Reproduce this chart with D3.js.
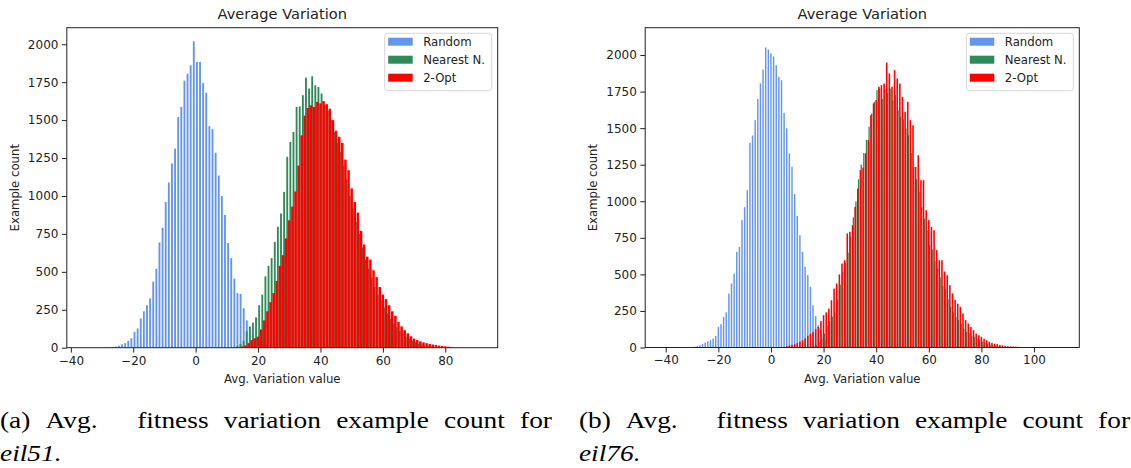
<!DOCTYPE html>
<html><head><meta charset="utf-8">
<script src="https://cdn.jsdelivr.net/npm/d3@7"></script>
<style>html,body{margin:0;padding:0;background:#fff;} svg{display:block;}</style>
</head><body>
<svg id="c" width="1131" height="468"></svg>
<script>
// ---------- DATA ----------
const seriesNames = ["Random", "Nearest N.", "2-Opt"];
const seriesColors = ["#6495ED", "#2E8B57", "#FF0000"];
const xTicksA = [-40, -20, 0, 20, 40, 60, 80];
const xTicksB = [-40, -20, 0, 20, 40, 60, 80, 100];
const yTicks = [0, 250, 500, 750, 1000, 1250, 1500, 1750, 2000];

// (a) eil51 — bin centres start at *Start, one unit apart
const aRandomStart = -28.6;
const aRandom = [5,5,6,8,13,22,30,45,62,105,127,193,240,280,325,435,520,694,790,961,1089,1214,1313,1520,1587,1760,1806,1861,2019,
  1883,1883,1745,1680,1460,1440,1285,1135,1000,875,690,590,455,360,355,260,180,135,90,60,38,22,10,4];
const aNearestStart = 12.35;
const aNearest = [5,12,25,45,110,140,165,200,280,350,470,540,590,698,797,885,1027,1258,1356,1422,1587,1590,1664,1780,1708,1789,1729,1718,1675,
  1600,1560,1500,1420,1350,1290,1200,1110,1000,920,830,750,660,580,520,460,400,350,310,265,225,190,160,135,110,90,72,58,45,35,27,20,15,11,8,5];
const aTwoOptStart = 15;
const aTwoOpt = [8,15,30,50,62,73,120,180,240,300,360,440,540,610,720,840,930,1030,1200,1400,1530,1580,1598,1587,1620,1610,1625,1605,1575,
  1500,1430,1390,1350,1240,1170,1050,960,890,770,680,600,580,510,465,400,350,320,280,240,210,170,140,115,95,75,60,50,42,35,30,25,21,18,14,12,9,7,5];

// (b) eil76
const bRandomStart = -31;
const bRandom = [4,4,6,10,16,25,33,42,50,62,80,140,160,210,240,369,438,506,654,688,871,960,1076,1400,1450,1555,1700,1806,1901,2052,2038,
  2011,1990,1931,1850,1828,1605,1498,1327,1236,1049,900,768,654,552,495,415,289,214,152,118,73,50,30,15,6];
const bNearestStart = 14.3;
const bNearest = [4,6,10,16,35,60,95,150,180,210,240,330,430,517,580,650,760,890,1000,1150,1250,1330,1420,1510,1600,1680,1760,1771,1700,
  1765,1740,1770,1690,1726,1620,1577,1560,1498,1450,1330,1235,1150,1064,960,882,800,700,670,590,540,480,420,403,330,278,240,210,187,160,
  130,107,95,80,73,60,50,40,32,25,20,15,11,8,6,4];
const bTwoOptStart = 6;
const bTwoOpt = [10,14,18,23,30,39,50,62,80,95,107,125,141,180,221,240,266,323,403,438,500,574,597,780,791,836,962,1087,1213,1231,1327,
  1418,1589,1669,1692,1783,1794,1805,1949,1874,1783,1897,1840,1805,1714,1612,1680,1555,1520,1235,1315,1144,1144,939,871,825,802,666,597,
  597,520,494,426,369,324,300,278,232,187,164,140,118,95,84,73,60,50,40,32,26,23,18,15,11,9,8,7,6,5,4,3];

const captionA = ["(a)", "Avg.", "fitness", "variation", "example", "count", "for"];
const captionA2 = "eil51.";
const captionB = ["(b)", "Avg.", "fitness", "variation", "example", "count", "for"];
const captionB2 = "eil76.";

// ---------- DRAW ----------
const svg = d3.select("#c");
const FONT = "DejaVu Sans";

function panel(cfg) {
  const {x0, x1, y0, y1, xDomain, yDomain, xTicks, series, id} = cfg;
  const g = svg.append("g");
  const xs = d3.scaleLinear().domain(xDomain).range([x0, x1]);
  const ys = d3.scaleLinear().domain(yDomain).range([y1, y0]);

  g.append("clipPath").attr("id", "clip" + id)
    .append("rect").attr("x", x0).attr("y", y0).attr("width", x1 - x0).attr("height", y1 - y0);

  const plot = g.append("g").attr("clip-path", `url(#clip${id})`);
  series.forEach(s => {
    const pts = s.values.map((c, i) => ({v: s.start + i, c}));
    plot.append("g").selectAll("rect").data(pts).join("rect")
      .attr("x", d => xs(d.v - s.width / 2))
      .attr("width", d => xs(d.v + s.width / 2) - xs(d.v - s.width / 2))
      .attr("y", d => ys(d.c))
      .attr("height", d => ys(0) - ys(d.c))
      .attr("fill", s.color);
  });

  // axes
  const fmt = d3.format("d");
  const xAxis = d3.axisBottom(xs).tickValues(xTicks).tickFormat(fmt).tickSize(4.9).tickPadding(3.5);
  const gx = g.append("g").attr("transform", `translate(0,${y1})`).call(xAxis);
  const yAxis = d3.axisLeft(ys).tickValues(yTicks).tickFormat(fmt).tickSize(4.9).tickPadding(3.5);
  const gy = g.append("g").attr("transform", `translate(${x0},0)`).call(yAxis);
  [gx, gy].forEach(a => {
    a.attr("font-family", null).attr("font-size", null);
    a.select(".domain").remove();
    a.selectAll("line").attr("stroke", "#222").attr("stroke-width", 1);
    a.selectAll("text").attr("font-family", FONT).attr("font-size", 12).attr("fill", "#222");
  });

  // spines
  g.append("rect").attr("x", x0).attr("y", y0).attr("width", x1 - x0).attr("height", y1 - y0)
    .attr("fill", "none").attr("stroke", "#222").attr("stroke-width", 1);

  // title & labels
  const cx = (x0 + x1) / 2;
  g.append("text").attr("x", cx).attr("y", 19).attr("text-anchor", "middle")
    .attr("font-family", FONT).attr("font-size", 14.6).attr("fill", "#222").text("Average Variation");
  g.append("text").attr("x", cx).attr("y", 382.5).attr("text-anchor", "middle")
    .attr("font-family", FONT).attr("font-size", 11.7).attr("fill", "#222").text("Avg. Variation value");
  g.append("text").attr("transform", `translate(${x0 - 52},${(y0 + y1) / 2}) rotate(-90)`)
    .attr("text-anchor", "middle").attr("dy", "0.35em")
    .attr("font-family", FONT).attr("font-size", 11.7).attr("fill", "#222").text("Example count");

  // legend
  const lx1 = x1 - 6, lx0 = lx1 - 107, ly0 = y0 + 5.6, ly1 = y0 + 63;
  g.append("rect").attr("x", lx0).attr("y", ly0).attr("width", lx1 - lx0).attr("height", ly1 - ly0)
    .attr("rx", 3).attr("fill", "#fff").attr("fill-opacity", 0.8).attr("stroke", "#d6d6d6").attr("stroke-width", 1);
  seriesNames.forEach((name, i) => {
    const cy = ly0 + 8.4 + i * 18;
    g.append("rect").attr("x", lx0 + 3.5).attr("y", cy - 4).attr("width", 24.5).attr("height", 8)
      .attr("fill", seriesColors[i]);
    g.append("text").attr("x", lx0 + 38.5).attr("y", cy).attr("dy", "0.36em")
      .attr("font-family", FONT).attr("font-size", 11.7).attr("fill", "#222").text(name);
  });
}

panel({
  id: "a", x0: 66.8, x1: 497.7, y0: 27.7, y1: 347.7,
  xDomain: [-41.3, 96.8], yDomain: [0, 2109], xTicks: xTicksA,
  series: [
    {values: aRandom, start: aRandomStart, width: 0.6, color: seriesColors[0]},
    {values: aNearest, start: aNearestStart, width: 0.6, color: seriesColors[1]},
    {values: aTwoOpt, start: aTwoOptStart, width: 0.8, color: seriesColors[2]}
  ]
});
panel({
  id: "b", x0: 645.2, x1: 1079.3, y0: 27.7, y1: 347.5,
  xDomain: [-47.8, 117.2], yDomain: [0, 2187], xTicks: xTicksB,
  series: [
    {values: bRandom, start: bRandomStart, width: 0.55, color: seriesColors[0]},
    {values: bNearest, start: bNearestStart, width: 0.5, color: seriesColors[1]},
    {values: bTwoOpt, start: bTwoOptStart, width: 0.6, color: seriesColors[2]}
  ]
});

// captions: justified words (LaTeX style, wider gap after the sentence-ending "Avg.")
const SERIF = "Liberation Serif";
const SX = 1.14;
function caption(x, w, words, line2) {
  const g = svg.append("g").attr("font-family", SERIF).attr("font-size", 24).attr("fill", "#000");
  const t = g.selectAll("text.w").data(words).join("text").attr("class", "w")
    .attr("y", 428).attr("transform", `scale(${SX},1)`).text(d => d);
  const widths = t.nodes().map(n => n.getComputedTextLength() * SX);
  const weights = words.slice(1).map(() => 1);
  weights[1] = 2.6; // gap after "Avg."
  const gapUnit = (w - d3.sum(widths)) / d3.sum(weights);
  let cur = x;
  t.each(function(d, i) {
    d3.select(this).attr("x", cur / SX);
    cur += widths[i] + (i < weights.length ? weights[i] * gapUnit : 0);
  });
  g.append("text").attr("x", x / SX).attr("y", 461).attr("transform", `scale(${SX},1)`)
    .attr("font-style", "italic").text(line2);
}
caption(0, 552, captionA, captionA2);
caption(579, 551, captionB, captionB2);
</script>
</body></html>
